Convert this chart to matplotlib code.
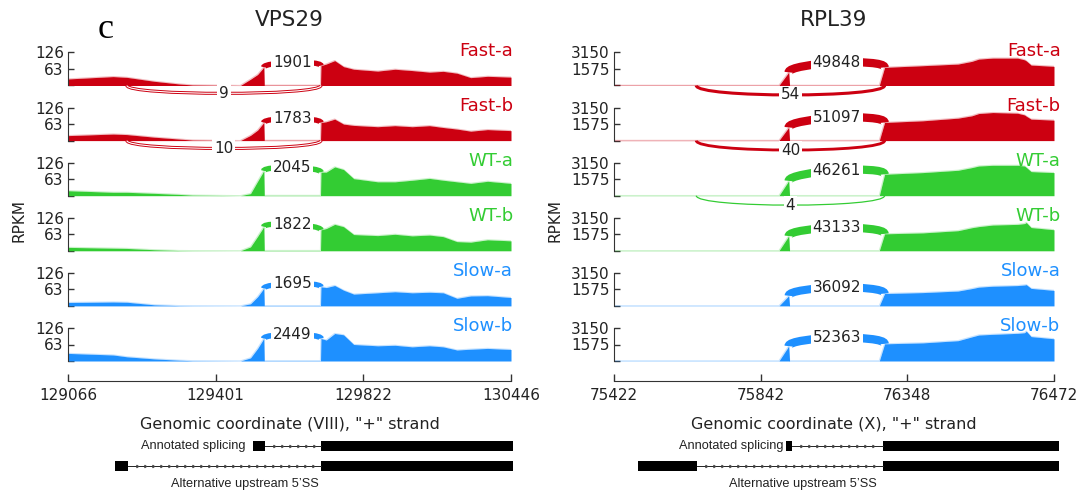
import numpy as np
import matplotlib.pyplot as plt
from matplotlib.path import Path
from matplotlib.patches import PathPatch

# ==============================
# Samples
# ==============================
samples = ["Fast-a", "Fast-b", "WT-a", "WT-b", "Slow-a", "Slow-b"]
colors = ["#CC0011", "#CC0011", "#33CC33", "#33CC33", "#1E90FF", "#1E90FF"]

# ==============================
# VPS29 (chr VIII), compressed axis: 0 -> 129066, 1 -> 130446
# ==============================
vps_ticks = ["129066", "129401", "129822", "130446"]
vps_x = [0.000, 0.102, 0.133, 0.195, 0.250, 0.281, 0.389, 0.412, 0.428, 0.442,
         0.443, 0.570, 0.571, 0.583, 0.602, 0.622, 0.645, 0.699, 0.738, 0.777,
         0.816, 0.847, 0.878, 0.909, 0.947, 1.000]
vps_fast_a = [25, 34, 31, 16, 6, 2, 0, 24, 42, 70, 1, 1, 76, 82, 95, 72, 62, 55, 62, 57, 51, 54, 47, 30, 35, 32]
vps_fast_b = [19, 25, 23, 13, 6, 2, 0, 20, 40, 69, 1, 1, 69, 72, 82, 63, 58, 53, 57, 53, 57, 50, 44, 36, 42, 38]
vps_wt_a = [19, 13, 13, 9, 5, 2, 0, 8, 55, 95, 1, 1, 90, 90, 110, 100, 65, 53, 53, 59, 66, 59, 53, 47, 55, 47]
vps_wt_b = [13, 10, 9, 4, 1, 0.5, 0, 15, 55, 92, 1, 1, 80, 85, 101, 92, 62, 58, 63, 57, 60, 54, 35, 33, 42, 38]
vps_slow_a = [13, 15, 14, 4, 1, 0.5, 0, 8, 35, 67, 1, 1, 73, 70, 78, 60, 45, 50, 54, 50, 52, 50, 29, 38, 39, 32]
vps_slow_b = [29, 23, 16, 8, 3, 1, 0, 12, 48, 86, 1, 1, 86, 80, 105, 100, 63, 58, 60, 54, 58, 54, 42, 45, 48, 44]
vps_ymax = 126
vps_main_jx = [0.442, 0.571]
vps_main_counts = [1901, 1783, 2045, 1822, 1695, 2449]
vps_alt_jx = [0.133, 0.571]
vps_alt_counts = [9, 10, 0, 0, 0, 0]
vps_exons_annot = [(0.418, 0.445), (0.571, 1.005)]
vps_exons_alt = [(0.106, 0.135), (0.571, 1.005)]

# ==============================
# RPL39 (chr X), compressed axis: 0 -> 75422, 1 -> 76472
# ==============================
rpl_ticks = ["75422", "75842", "76348", "76472"]
rpl_x = [0.000, 0.370, 0.375, 0.397, 0.399, 0.600, 0.603, 0.615, 0.702, 0.782,
         0.813, 0.829, 0.861, 0.917, 0.933, 0.937, 0.948, 1.000]
rpl_fast_a = [15, 15, 15, 1260, 15, 15, 15, 1733, 1890, 2047, 2300, 2520, 2615, 2615, 2450, 2350, 1950, 1827]
rpl_fast_b = [15, 15, 15, 1260, 15, 15, 15, 1733, 1890, 2142, 2363, 2583, 2678, 2615, 2450, 2330, 2047, 1953]
rpl_wt_a = [10, 10, 10, 1418, 10, 10, 10, 2047, 2205, 2425, 2678, 2835, 2900, 2900, 2835, 2700, 2300, 2205]
rpl_wt_b = [10, 10, 10, 1410, 10, 10, 10, 1620, 1710, 1920, 2200, 2310, 2460, 2520, 2600, 2700, 2220, 2010]
rpl_slow_a = [10, 10, 10, 970, 10, 10, 10, 1180, 1270, 1420, 1650, 1790, 1880, 1940, 2000, 2030, 1670, 1480]
rpl_slow_b = [10, 10, 10, 1420, 10, 10, 10, 1640, 1730, 1940, 2300, 2480, 2545, 2640, 2700, 2850, 2330, 2120]
rpl_ymax = 3150
rpl_main_jx = [0.397, 0.615]
rpl_main_counts = [49848, 51097, 46261, 43133, 36092, 52363]
rpl_alt_jx = [0.187, 0.615]
rpl_alt_counts = [54, 40, 4, 0, 0, 0]
rpl_exons_annot = [(0.391, 0.405), (0.611, 1.011)]
rpl_exons_alt = [(0.055, 0.189), (0.611, 1.011)]

panels = [
    dict(title="VPS29", x0=68, x1=511, x=vps_x,
         cov=[vps_fast_a, vps_fast_b, vps_wt_a, vps_wt_b, vps_slow_a, vps_slow_b],
         ymax=vps_ymax, ticks=vps_ticks, chrom="VIII",
         main_jx=vps_main_jx, main_counts=vps_main_counts,
         alt_jx=vps_alt_jx, alt_counts=vps_alt_counts,
         annot=vps_exons_annot, alt=vps_exons_alt,
         lift=20, drop=40, lw_k=4.0, hollow=True,
         ann_x=0.40, alt_lab_x=0.40, name_x=1.005, ylab_px=19),
    dict(title="RPL39", x0=614, x1=1054, x=rpl_x,
         cov=[rpl_fast_a, rpl_fast_b, rpl_wt_a, rpl_wt_b, rpl_slow_a, rpl_slow_b],
         ymax=rpl_ymax, ticks=rpl_ticks, chrom="X",
         main_jx=rpl_main_jx, main_counts=rpl_main_counts,
         alt_jx=rpl_alt_jx, alt_counts=rpl_alt_counts,
         annot=rpl_exons_annot, alt=rpl_exons_alt,
         lift=900, drop=1200, lw_k=6.0, hollow=False,
         ann_x=0.386, alt_lab_x=0.43, name_x=1.015, ylab_px=555),
]

W, H = 1086, 490
base0, step = 85.5, 55.1     # baseline of first track and track spacing [px]
fig = plt.figure(figsize=(W / 100, H / 100), dpi=100)


def arc(ax, pts, color, lw, zorder=3):
    path = Path(pts, [Path.MOVETO, Path.CURVE4, Path.CURVE4, Path.CURVE4])
    ax.add_patch(PathPatch(path, fc="none", ec=color, lw=lw,
                           capstyle="butt", zorder=zorder, clip_on=False))


def jlabel(ax, x, y, n):
    ax.text(x, y, str(n), ha="center", va="center", fontsize=11, color="#222222",
            zorder=5, clip_on=False,
            bbox=dict(boxstyle="square,pad=0.12", fc="white", ec="none"))


for p in panels:
    x0, x1, ymax = p["x0"], p["x1"], p["ymax"]
    xs = np.array(p["x"])
    max_c = max(p["main_counts"])
    for i, (name, col, cov) in enumerate(zip(samples, colors, p["cov"])):
        b = base0 + step * i
        ax = fig.add_axes([x0 / W, 1 - (b + 19) / H, (x1 - x0) / W, 55 / H])
        ax.set_xlim(0, 1)
        ax.set_ylim(-19 / 33 * ymax, 36 / 33 * ymax)
        cov = np.array(cov, dtype=float)
        ax.fill_between(xs, 0, cov, color=col, lw=0, zorder=2)
        # faint trace so that near-zero stretches still show
        ax.plot(xs, cov, color=col, lw=0.9, alpha=0.25, zorder=2)

        # junction joining the annotated exons (above the track)
        d, a = p["main_jx"]
        L, R = np.interp(d, xs, cov), np.interp(a, xs, cov)
        h = p["lift"]
        n = p["main_counts"][i]
        arc(ax, [(d, L), (d, L + h), (a, R + h), (a, R)], col,
            np.log(n + 1) / np.log(max_c) * p["lw_k"])
        jlabel(ax, (d + a) / 2, (L + R) / 2 + 0.75 * h, n)

        # upstream 5'SS junction (below the track)
        n = p["alt_counts"][i]
        if n > 0:
            d, a = p["alt_jx"]
            h = p["drop"]
            pts = [(d, 0), (d, -h), (a, -h), (a, 0)]
            if p["hollow"]:
                arc(ax, pts, col, 2.2)
                arc(ax, pts, "white", 0.8, zorder=3.5)
            else:
                arc(ax, pts, col, np.log(n + 1) / np.log(max_c) * p["lw_k"])
            jlabel(ax, (d + a) / 2, -0.75 * h, n)

        ax.text(p["name_x"], 35 / 33 * ymax, name, ha="right", va="center",
                color=col, fontsize=13, zorder=6, clip_on=False)

        for s in ["top", "right", "bottom"]:
            ax.spines[s].set_visible(False)
        ax.spines["left"].set_bounds(0, ymax)
        ax.spines["left"].set_color("#333333")
        ax.set_xticks([])
        ax.set_yticks([0, ymax / 2, ymax])
        ax.set_yticklabels(["", str(ymax // 2), str(ymax)])
        ax.tick_params(axis="y", direction="in", length=4, width=1,
                       colors="#333333", labelcolor="#222222", labelsize=11, pad=3)
        ax.patch.set_visible(False)

    # genomic coordinate axis
    axx = fig.add_axes([x0 / W, 1 - 381 / H, (x1 - x0) / W, 0.0001])
    axx.set_xlim(0, 1)
    for s in ["top", "right", "left"]:
        axx.spines[s].set_visible(False)
    axx.spines["bottom"].set_color("#333333")
    axx.set_yticks([])
    axx.set_xticks(np.linspace(0, 1, len(p["ticks"])))
    axx.set_xticklabels(p["ticks"])
    axx.tick_params(axis="x", direction="in", length=5, width=1,
                    colors="#333333", labelcolor="#222222", labelsize=11, pad=5)
    cx = (x0 + x1) / 2 / W
    fig.text(cx, 1 - 424 / H, 'Genomic coordinate (%s), "+" strand' % p["chrom"],
             ha="center", va="center", fontsize=11.5, color="#222222")
    fig.text(cx, 1 - 20 / H, p["title"], ha="center", va="center",
             fontsize=15.5, color="#222222")
    fig.text(p["ylab_px"] / W, 1 - 220 / H, "RPKM", rotation=90,
             ha="center", va="center", fontsize=11, color="#222222")

    # isoform models
    axg = fig.add_axes([x0 / W, 1 - 476 / H, (x1 - x0) / W, 40 / H])
    axg.set_xlim(0, 1)
    axg.set_ylim(2, 0)
    axg.axis("off")
    gap = 8 / (x1 - x0)
    for y, exons in [(0.5, p["annot"]), (1.5, p["alt"])]:
        (s1, e1), (s2, e2) = exons
        axg.plot([e1, s2], [y, y], color="#222222", lw=0.7, clip_on=False)
        cx_ = np.arange(e1 + gap, s2 - gap / 2, gap)
        axg.plot(cx_, np.full(len(cx_), y), ls="none", marker=9, ms=1.8,
                 color="#444444", clip_on=False)
        axg.broken_barh([(s, e - s) for s, e in exons], (y - 0.26, 0.52),
                        facecolors="black", clip_on=False)
    axg.text(p["ann_x"], 0.5, "Annotated splicing", ha="right", va="center",
             fontsize=9.2, family="Liberation Sans", color="#222222")
    axg.text(p["alt_lab_x"], 2.4, "Alternative upstream 5’SS", ha="center",
             va="center", fontsize=9.2, family="Liberation Sans", color="#222222")

fig.text(106 / W, 1 - 29 / H, "c", family="Liberation Serif", fontsize=26,
         ha="center", va="center")

fig.savefig("out.png", dpi=100)
